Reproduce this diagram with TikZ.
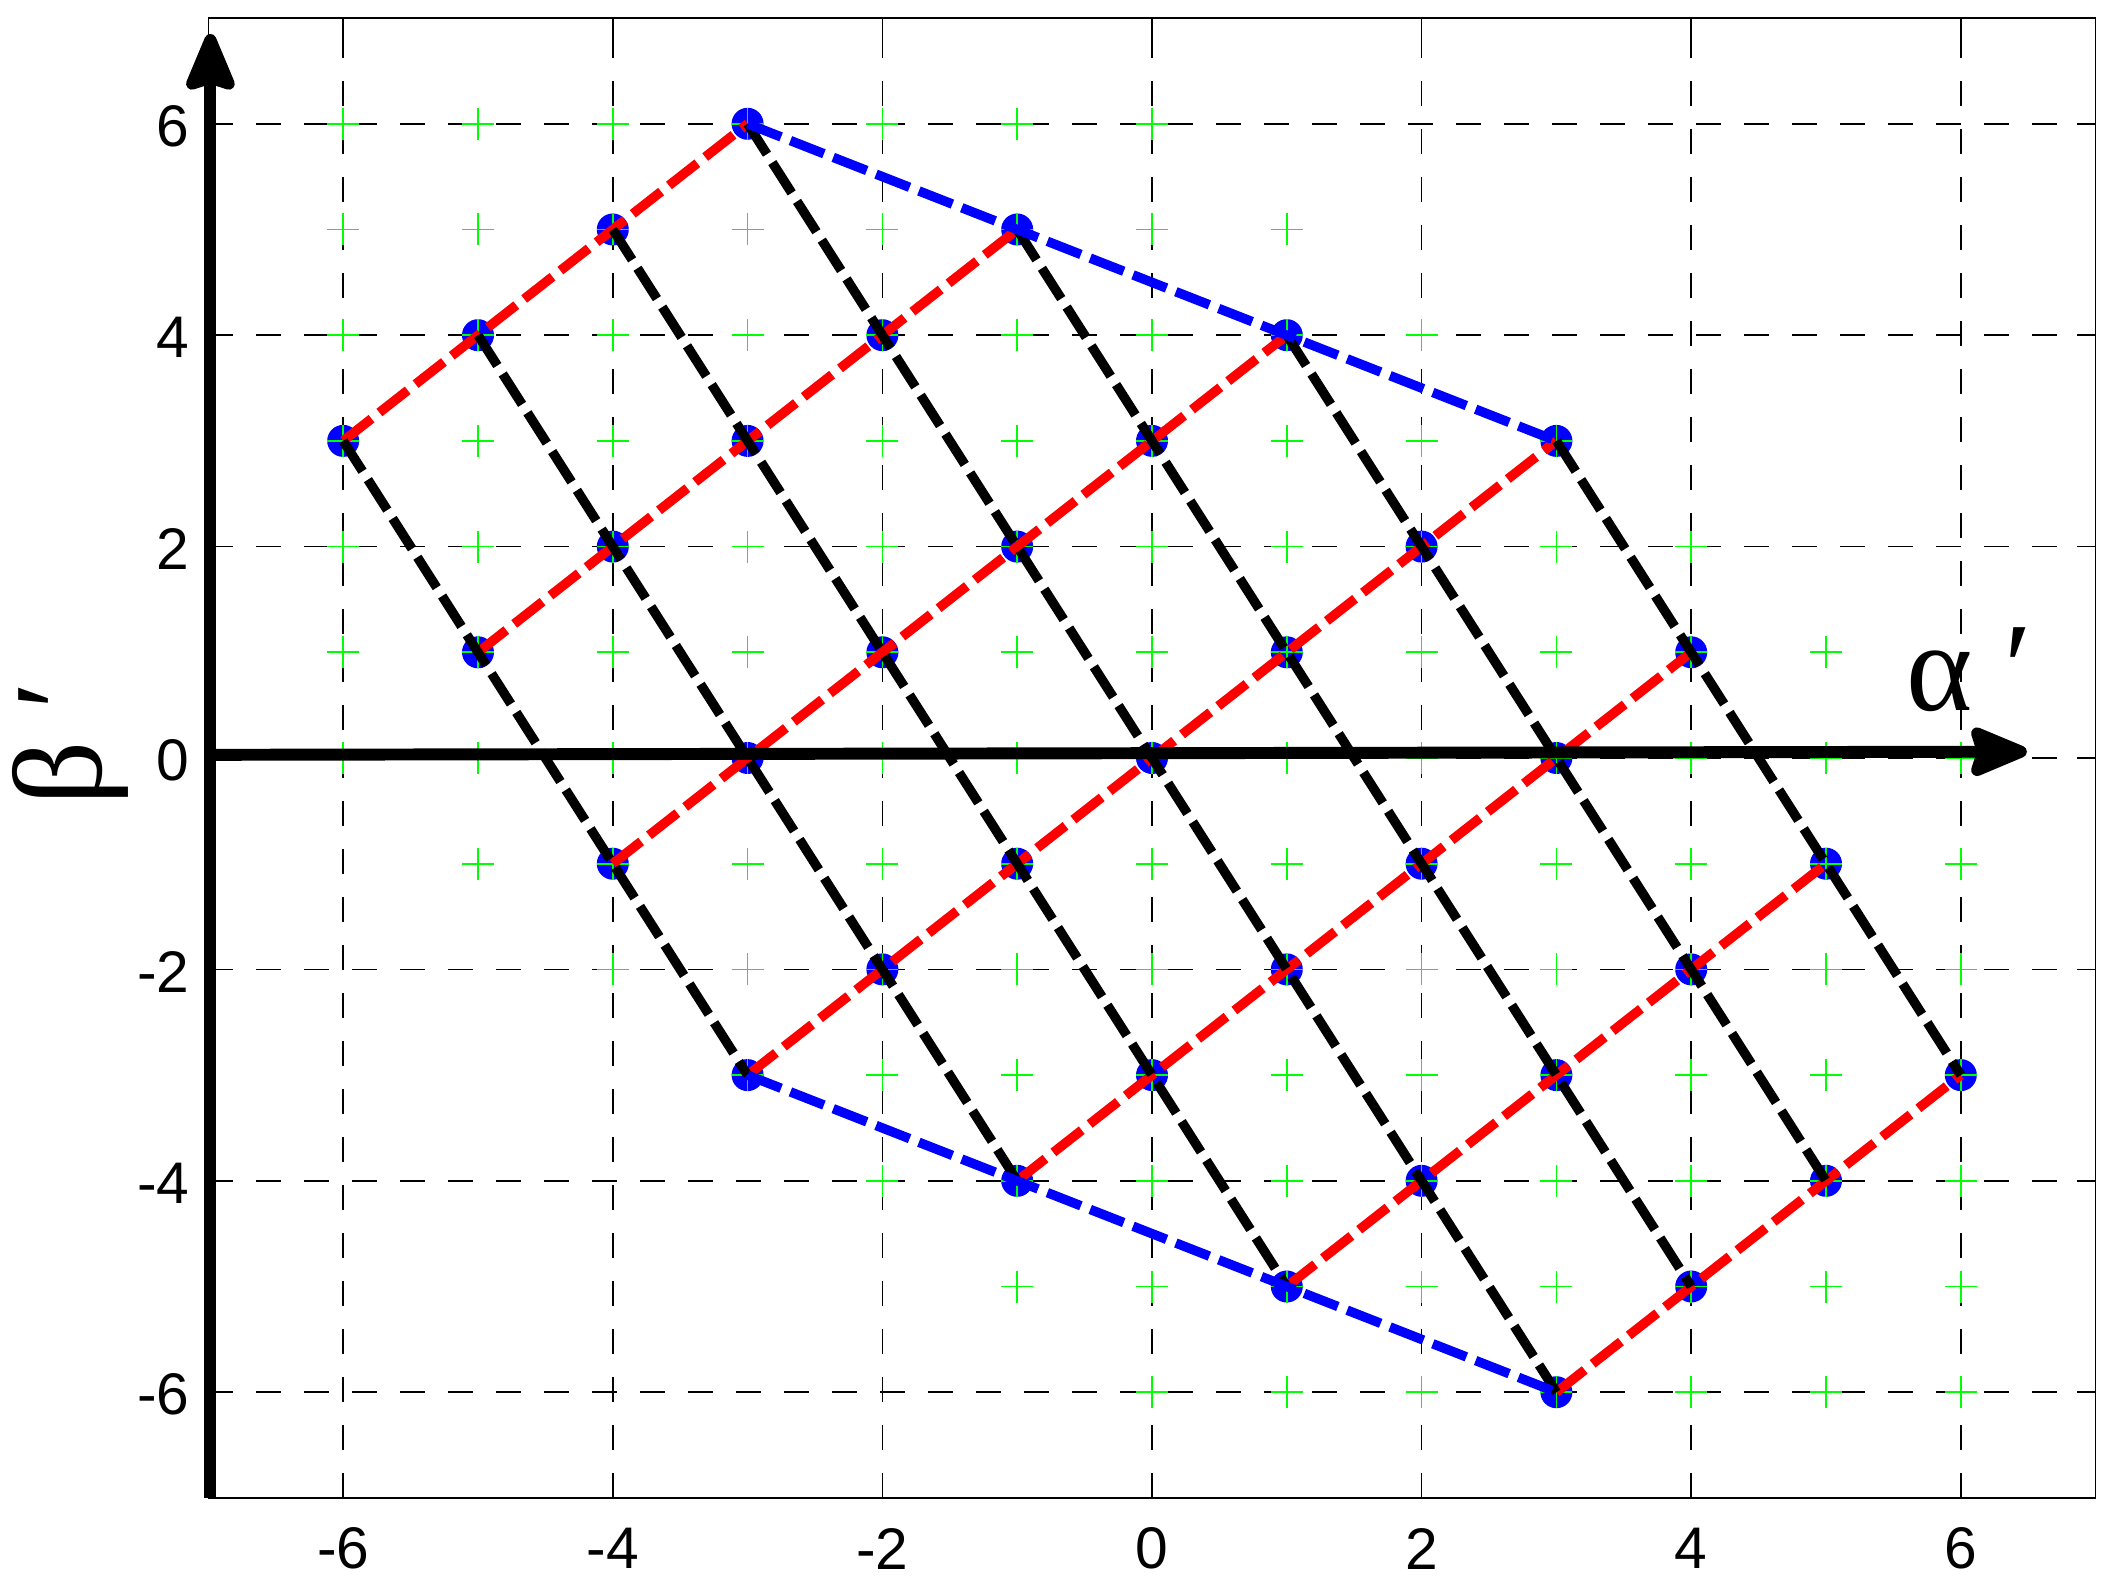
\documentclass[tikz,border=0pt]{standalone}
\usepackage{fontspec}
\setmainfont{Liberation Sans}
\newfontfamily\grk{Liberation Serif}
\usetikzlibrary{arrows.meta}
\begin{document}
\begin{tikzpicture}[x=1.348cm,y=1.057cm,
  gridl/.style={line width=0.5pt, dash pattern=on 0.25cm off 0.23cm},
  tickl/.style={line width=0.5pt},
  thickd/.style={line width=2.7pt, dash pattern=on 0.36cm off 0.10cm},
  redl/.style={thickd, draw=red},
  blackl/.style={thickd, draw=black},
  bluel/.style={thickd, draw=blue},
  dot/.style={circle, fill=blue, inner sep=0pt, minimum size=0.32cm},
  plusm/.style={draw=green, line width=0.5pt},
  axisarrow/.style={line width=3.4pt, -{Stealth[length=0.68cm,width=0.55cm,inset=0.08cm,round]}},
  ticklab/.style={font=\fontsize{16.7}{20}\selectfont, inner sep=0pt},
  biglab/.style={font=\grk\fontsize{36}{40}\selectfont, inner sep=0pt}
]
\useasboundingbox (-11.52cm,-8.35cm) rectangle (9.61cm,7.58cm);

% grid
\foreach \v in {-6,-4,...,6} {
  \draw[gridl] (\v,-7) -- (\v,7);
  \draw[gridl] (-7,\v) -- (7,\v);
}
% ticks
\foreach \v in {-6,-4,...,6} {
  \draw[tickl] (\v,-7) -- ++(0,0.19cm);
  \draw[tickl] (\v,7) -- ++(0,-0.19cm);
  \draw[tickl] (-7,\v) -- ++(0.19cm,0);
  \draw[tickl] (7,\v) -- ++(-0.19cm,0);
}
% lattice dots
\foreach \i in {0,...,6} {
  \foreach \j in {0,...,6} {
    \pgfmathtruncatemacro\d{abs(\i-\j)}
    \ifnum\d<4
      \pgfmathsetmacro\xx{-6+\i+\j}
      \pgfmathsetmacro\yy{3+\i-2*\j}
      \node[dot] (p\i\j) at (\xx,\yy) {};
    \fi
  }
}
% green plus markers
\foreach \a in {-6,...,6} {
  \foreach \b in {-6,...,6} {
    \pgfmathtruncatemacro\s{abs(\a+\b)}
    \ifnum\s<7
      \draw[plusm] (\a,\b) ++(-0.16cm,0) -- ++(0.32cm,0)
                   (\a,\b) ++(0,-0.16cm) -- ++(0,0.32cm);
    \fi
  }
}
% red lines
\foreach \j/\a/\b in {0/0/3,1/0/4,2/0/5,3/0/6,4/1/6,5/2/6,6/3/6}
  \draw[redl] (p\a\j.center) -- (p\b\j.center);
% black lines
\foreach \i/\a/\b in {0/0/3,1/0/4,2/0/5,3/0/6,4/1/6,5/2/6,6/3/6}
  \draw[blackl] (p\i\a.center) -- (p\i\b.center);
% blue lines
\draw[bluel] (p30.center) -- (p63.center);
\draw[bluel] (p03.center) -- (p36.center);

% box
\draw[line width=0.5pt] (-7,-7) rectangle (7,7);

% axes
\coordinate (xs) at (-7,0.03);
\coordinate (xe) at (6.49,0.06);
\coordinate (ys) at (-6.985,-7);
\coordinate (ye) at (-6.985,6.85);
\draw[axisarrow] (xs) -- (xe);
\draw[axisarrow] (ys) -- (ye);

% tick labels
\foreach \v in {-6,-4,...,6} {
  \node[ticklab] (xl\v) at (\v,-7.48) {\v};
  \node[ticklab, anchor=east] (yl\v) at (-7.136,\v-0.02) {\v};
}

% axis labels
\node[biglab, anchor=base west] (alab) at (5.59,0.454) {α ′};
\node[biglab, anchor=base west, rotate=90] (blab) at (-7.79,-0.454) {β ′};
\end{tikzpicture}
\end{document}
